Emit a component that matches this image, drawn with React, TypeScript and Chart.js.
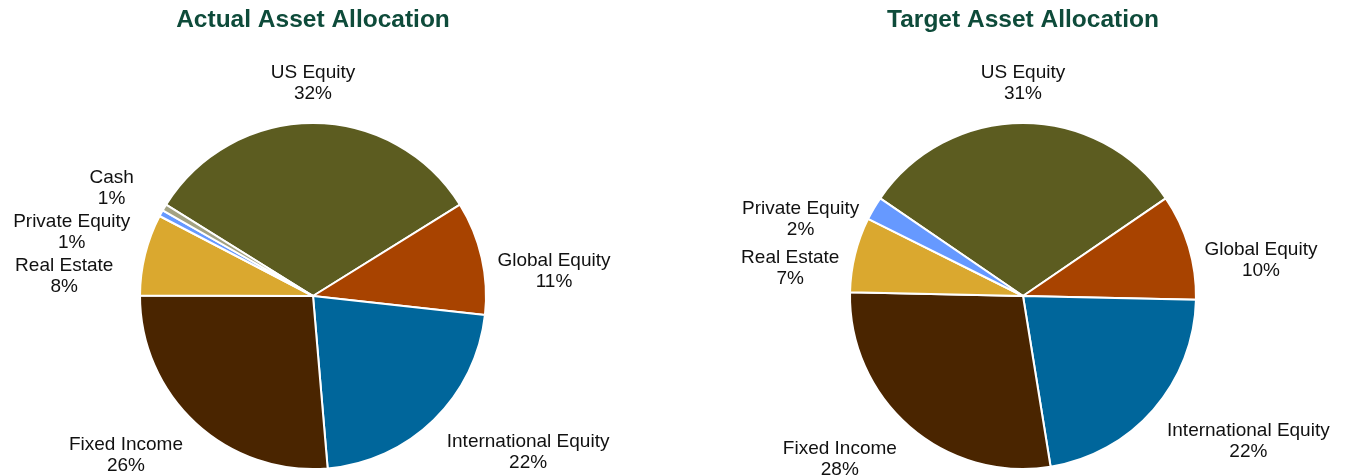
import React, { useEffect, useRef } from "react";
import { Chart, registerables } from "chart.js";

Chart.register(...registerables);

// ---- Data ----
const actualCategories = [
  "US Equity",
  "Global Equity",
  "International Equity",
  "Fixed Income",
  "Real Estate",
  "Private Equity",
  "Cash",
];
const actualValues = [32.3, 10.6, 21.9, 26.4, 7.6, 0.6, 0.6];

const targetCategories = [
  "US Equity",
  "Global Equity",
  "International Equity",
  "Fixed Income",
  "Real Estate",
  "Private Equity",
];
const targetValues = [30.9, 9.9, 22.1, 27.9, 7.0, 2.2];

const actualTitle = "Actual Asset Allocation";
const targetTitle = "Target Asset Allocation";

// ---- Styles ----
const categoryColors: Record<string, string> = {
  "US Equity": "#5C5C20",
  "Global Equity": "#A84300",
  "International Equity": "#00669B",
  "Fixed Income": "#4A2500",
  "Real Estate": "#DAA82F",
  "Private Equity": "#6699FF",
  Cash: "#A3A283",
};
const TITLE_COLOR = "#0E4B3A";
const TEXT_COLOR = "#111111";
const FONT_FAMILY = "'Liberation Sans', Arial, Helvetica, sans-serif";

const labelPlugin = {
  id: "pieLabels",
  afterDraw(chart: any, _args: any, opts: any) {
    const ctx = chart.ctx as CanvasRenderingContext2D;
    const meta = chart.getDatasetMeta(0);
    const labels = chart.data.labels as string[];
    const values = chart.data.datasets[0].data as number[];
    const total = values.reduce((a, b) => a + b, 0);
    const area = chart.chartArea;
    ctx.save();
    // Title
    ctx.font = `bold 24.5px ${FONT_FAMILY}`;
    ctx.fillStyle = TITLE_COLOR;
    ctx.textAlign = "center";
    ctx.textBaseline = "middle";
    ctx.fillText(opts.title || "", (area.left + area.right) / 2, 20);

    // Slice labels
    ctx.font = `19px ${FONT_FAMILY}`;
    ctx.fillStyle = TEXT_COLOR;
    const LH = 21;
    const h = 2 * LH;
    const boxes = meta.data.map((arc: any, i: number) => {
      const p = arc.getProps(["x", "y", "startAngle", "endAngle", "outerRadius"], true);
      const a = (p.startAngle + p.endAngle) / 2;
      const s = Math.cos(a);
      const d = Math.sin(a);
      const R = p.outerRadius + 10;
      const ax = p.x + R * s;
      const ay = p.y + R * d;
      const l1 = String(labels[i]);
      const l2 = Math.round((values[i] / total) * 100) + "%";
      const w = Math.max(ctx.measureText(l1).width, ctx.measureText(l2).width);
      let cx: number;
      let cy: number;
      if (Math.abs(s) < 0.3) {
        cx = ax;
        cy = d < 0 ? ay - h / 2 - 9 : ay + h / 2 + 9;
      } else {
        cx = ax + Math.sign(s) * (w / 2 + 6);
        cy = d > 0.3 ? ay + h / 2 + 4 : ay + h / 2 - 5;
      }
      return { cx, cy, w, l1, l2, side: Math.sign(s), moved: false };
    });
    // Resolve overlaps
    const need = h + 2;
    for (let it = 0; it < 200; it++) {
      let moved = false;
      for (let i = 0; i < boxes.length; i++) {
        for (let j = i + 1; j < boxes.length; j++) {
          const A = boxes[i];
          const B = boxes[j];
          if (Math.abs(A.cx - B.cx) >= (A.w + B.w) / 2) continue;
          const dy = B.cy - A.cy;
          if (Math.abs(dy) < need - 0.01) {
            const push = (need - Math.abs(dy)) / 2;
            const sg = dy >= 0 ? 1 : -1;
            A.cy -= sg * push;
            B.cy += sg * push;
            A.moved = true;
            B.moved = true;
            moved = true;
          }
        }
      }
      if (!moved) break;
    }
    boxes.forEach((b: any) => {
      const x = b.moved ? b.cx + b.side * 16 : b.cx;
      const y = b.moved ? b.cy - 5 : b.cy;
      ctx.fillText(b.l1, x, y - LH / 2);
      ctx.fillText(b.l2, x, y + LH / 2);
    });
    ctx.restore();
  },
};

function PieChart({
  categories,
  values,
  title,
}: {
  categories: string[];
  values: number[];
  title: string;
}) {
  const ref = useRef<HTMLCanvasElement | null>(null);
  useEffect(() => {
    if (!ref.current) return;
    const total = values.reduce((a, b) => a + b, 0);
    const rotation = -(values[0] / total) * 180;
    const chart = new Chart(ref.current, {
      type: "pie",
      data: {
        labels: categories,
        datasets: [
          {
            data: values,
            backgroundColor: categories.map((c) => categoryColors[c]),
            borderColor: "#ffffff",
            borderWidth: 2,
            radius: 173,
            hoverOffset: 0,
          } as any,
        ],
      },
      options: {
        responsive: false,
        animation: false,
        rotation,
        layout: { padding: { top: 120, bottom: 4, left: 0, right: 0 } },
        plugins: {
          legend: { display: false },
          tooltip: { enabled: false },
          title: { display: false },
          pieLabels: { title },
        } as any,
      },
      plugins: [labelPlugin],
    });
    return () => chart.destroy();
  }, [categories, values, title]);
  return <canvas ref={ref} width={626} height={476} style={{ display: "block" }} />;
}

export default function App() {
  return (
    <div
      style={{
        position: "fixed",
        left: 0,
        top: 0,
        width: 1346,
        height: 476,
        background: "#ffffff",
      }}
    >
      <div style={{ position: "absolute", left: 0, top: 0 }}>
        <PieChart categories={actualCategories} values={actualValues} title={actualTitle} />
      </div>
      <div style={{ position: "absolute", left: 710, top: 0 }}>
        <PieChart categories={targetCategories} values={targetValues} title={targetTitle} />
      </div>
    </div>
  );
}
